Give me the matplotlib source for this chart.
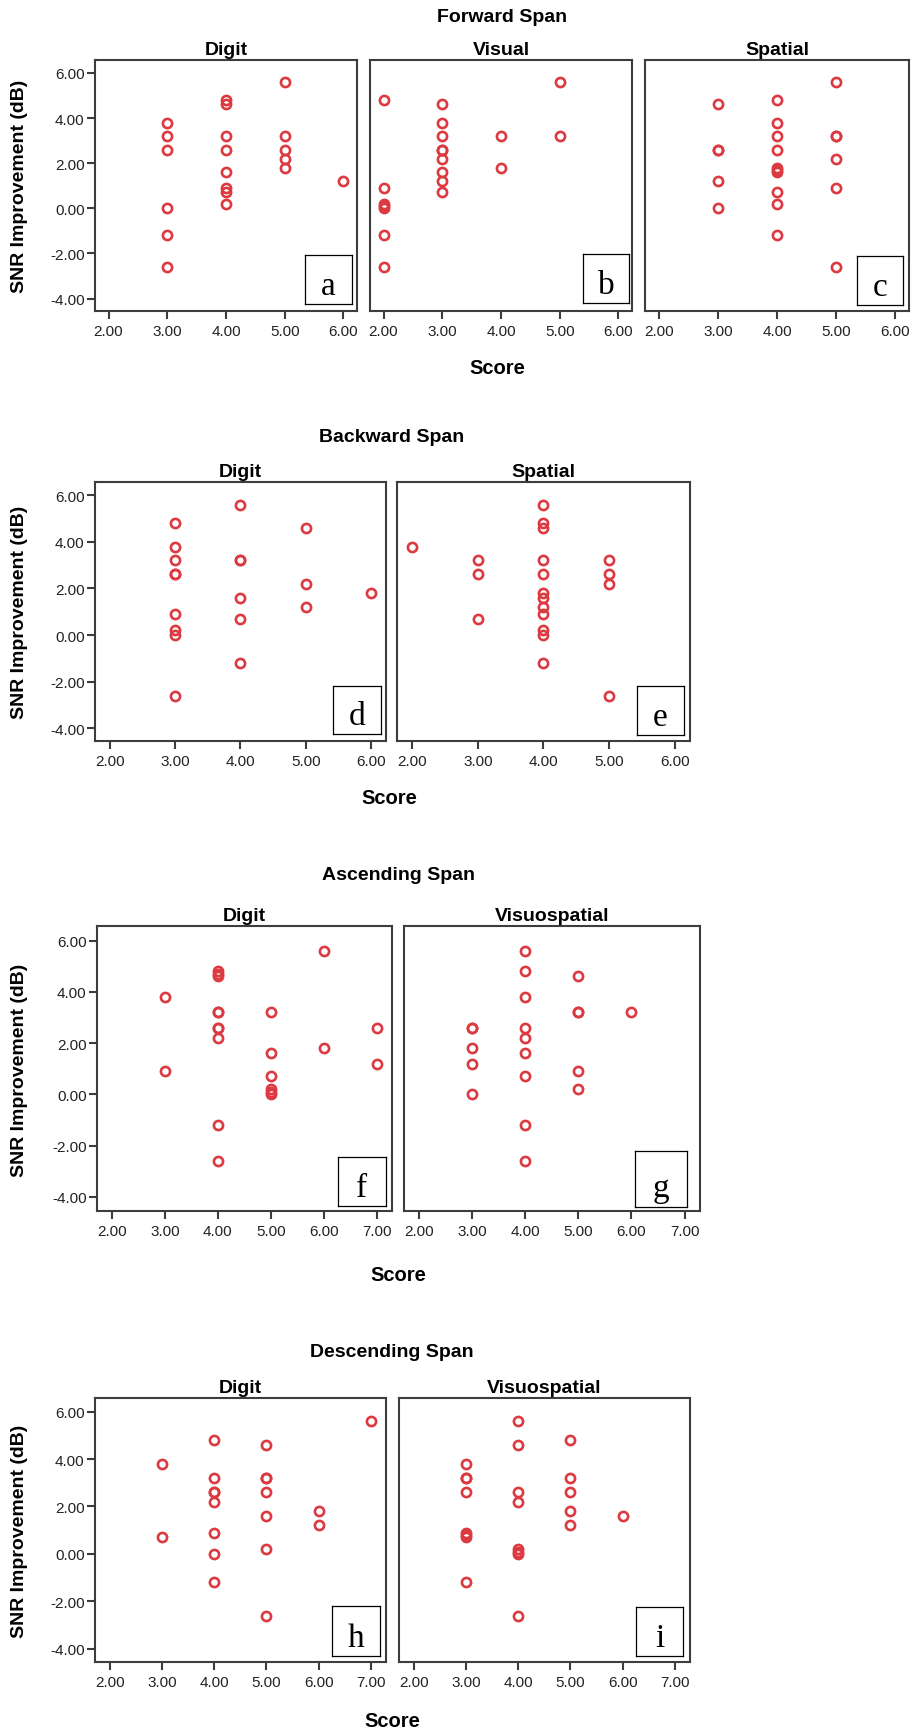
import matplotlib.pyplot as plt

plt.rcParams['font.family'] = ['Liberation Sans', 'DejaVu Sans']

# data: score (x) and SNR improvement in dB (y) for each panel
fwd_digit_score = [3]*6 + [4]*8 + [5]*5 + [6]
fwd_digit_snr = [3.8, 3.2, 2.6, 0.0, -1.2, -2.6,
                 4.8, 4.6, 3.2, 2.6, 1.6, 0.9, 0.7, 0.2,
                 5.6, 3.2, 2.6, 2.2, 1.8,
                 1.2]

fwd_visual_score = [2]*7 + [3]*9 + [4]*2 + [5]*2
fwd_visual_snr = [4.8, 0.9, 0.2, 0.1, 0.0, -1.2, -2.6,
                  4.6, 3.8, 3.2, 2.6, 2.6, 2.2, 1.6, 1.2, 0.7,
                  3.2, 1.8,
                  5.6, 3.2]

fwd_spatial_score = [3]*5 + [4]*10 + [5]*6
fwd_spatial_snr = [4.6, 2.6, 2.6, 1.2, 0.0,
                   4.8, 3.8, 3.2, 2.6, 1.8, 1.7, 1.6, 0.7, 0.2, -1.2,
                   5.6, 3.2, 3.2, 2.2, 0.9, -2.6]

bwd_digit_score = [3]*9 + [4]*6 + [5]*3 + [6]
bwd_digit_snr = [4.8, 3.8, 3.2, 2.6, 2.6, 0.9, 0.2, 0.0, -2.6,
                 5.6, 3.2, 3.2, 1.6, 0.7, -1.2,
                 4.6, 2.2, 1.2,
                 1.8]

bwd_spatial_score = [2] + [3]*3 + [4]*12 + [5]*4
bwd_spatial_snr = [3.8,
                   3.2, 2.6, 0.7,
                   5.6, 4.8, 4.6, 3.2, 2.6, 1.8, 1.6, 1.2, 0.9, 0.2, 0.0, -1.2,
                   3.2, 2.6, 2.2, -2.6]

asc_digit_score = [3]*2 + [4]*10 + [5]*6 + [6]*2 + [7]*2
asc_digit_snr = [3.8, 0.9,
                 4.8, 4.7, 4.6, 3.2, 3.2, 2.6, 2.6, 2.2, -1.2, -2.6,
                 3.2, 1.6, 0.7, 0.2, 0.1, 0.0,
                 5.6, 1.8,
                 2.6, 1.2]

asc_visuo_score = [3]*5 + [4]*9 + [5]*5 + [6]
asc_visuo_snr = [2.6, 2.6, 1.8, 1.2, 0.0,
                 5.6, 4.8, 3.8, 2.6, 2.2, 1.6, 0.7, -1.2, -2.6,
                 4.6, 3.2, 3.2, 0.9, 0.2,
                 3.2]

desc_digit_score = [3]*2 + [4]*8 + [5]*7 + [6]*2 + [7]
desc_digit_snr = [3.8, 0.7,
                  4.8, 3.2, 2.6, 2.6, 2.2, 0.9, 0.0, -1.2,
                  4.6, 3.2, 3.2, 2.6, 1.6, 0.2, -2.6,
                  1.8, 1.2,
                  5.6]

desc_visuo_score = [3]*8 + [4]*8 + [5]*5 + [6]
desc_visuo_snr = [3.8, 3.2, 3.2, 2.6, 0.9, 0.8, 0.7, -1.2,
                  5.6, 4.6, 2.6, 2.2, 0.2, 0.1, 0.0, -2.6,
                  4.8, 3.2, 2.6, 1.8, 1.2,
                  1.6]

section_titles = ["Forward Span", "Backward Span", "Ascending Span", "Descending Span"]
y_ticks = [-4, -2, 0, 2, 4, 6]

W, H = 912, 1733
fig = plt.figure(figsize=(W / 100, H / 100), dpi=100)


def px_axes(x0, y0, x1, y1):
    # pixel box (top-left origin) -> figure axes
    return fig.add_axes([x0 / W, 1 - y1 / H, (x1 - x0) / W, (y1 - y0) / H])


def fx(x):
    return x / W


def fy(y):
    return 1 - y / H


RED = '#dc3a40'
EDGE = '#3d3d3d'


def panel(box, xs, ys, title, xticks, xlim, first, letter, lbox):
    ax = px_axes(*box)
    ax.plot(xs, ys, linestyle='none', marker='o', markersize=6.6,
            markerfacecolor='none', markeredgecolor=RED, markeredgewidth=1.9)
    ax.set_xlim(*xlim)
    ax.set_ylim(-4.55, 6.57)
    ax.set_xticks(xticks)
    ax.set_xticklabels([f"{t:.2f}" for t in xticks])
    for s in ax.spines.values():
        s.set_color(EDGE)
        s.set_linewidth(1.5)
    ax.tick_params(axis='both', direction='out', length=5.5, width=1.5,
                   color=EDGE, labelsize=11, labelcolor='#222222', pad=4)
    ax.tick_params(axis='x', top=False)
    ax.tick_params(axis='y', right=False, pad=2)
    if first:
        ax.set_yticks(y_ticks)
        ax.set_yticklabels([f"{t:.2f}" for t in y_ticks])
    else:
        ax.set_yticks([])
    ax.set_title(title, fontsize=14, fontweight='bold', pad=4)

    # letter box in the lower right corner
    lb = px_axes(*lbox)
    lb.set_xticks([])
    lb.set_yticks([])
    for s in lb.spines.values():
        s.set_color('black')
        s.set_linewidth(0.9)
    lb.text(0.5, 0.2, letter, ha='center', va='baseline', fontsize=24,
            family=['Liberation Serif', 'DejaVu Serif'], transform=lb.transAxes)
    return ax


xt6 = [2, 3, 4, 5, 6]
xt7 = [2, 3, 4, 5, 6, 7]
xl6 = (1.77, 6.23)
xl7 = (1.72, 7.29)

# Forward span
panel((95, 61, 357, 312), fwd_digit_score, fwd_digit_snr, "Digit", xt6, xl6, True, "a", (305, 256, 352, 305))
panel((370, 61, 632, 312), fwd_visual_score, fwd_visual_snr, "Visual", xt6, xl6, False, "b", (583, 255, 629, 304))
panel((645, 61, 909, 312), fwd_spatial_score, fwd_spatial_snr, "Spatial", xt6, xl6, False, "c", (857, 257, 903, 306))

# Backward span
panel((95, 483, 386, 742), bwd_digit_score, bwd_digit_snr, "Digit", xt6, xl6, True, "d", (333, 687, 381, 735))
panel((397, 483, 690, 742), bwd_spatial_score, bwd_spatial_snr, "Spatial", xt6, xl6, False, "e", (637, 687, 684, 736))

# Ascending span
panel((97, 927, 392, 1212), asc_digit_score, asc_digit_snr, "Digit", xt7, xl7, True, "f", (338, 1158, 386, 1207))
panel((404, 927, 700, 1212), asc_visuo_score, asc_visuo_snr, "Visuospatial", xt7, xl7, False, "g", (635, 1152, 687, 1208))

# Descending span
panel((95, 1399, 386, 1663), desc_digit_score, desc_digit_snr, "Digit", xt7, xl7, True, "h", (332, 1607, 380, 1657))
panel((399, 1399, 690, 1663), desc_visuo_score, desc_visuo_snr, "Visuospatial", xt7, xl7, False, "i", (636, 1608, 683, 1657))

# section titles, y labels and x labels
title_pos = [(502, 17), (392, 438), (398, 876), (392, 1353)]
ylab_pos = [(20, 186), (20, 612), (20, 1070), (20, 1531)]
xlab_pos = [(497, 368), (389, 798), (398, 1276), (392, 1722)]
for t, (tx, ty), (yx, yy), (sx, sy) in zip(section_titles, title_pos, ylab_pos, xlab_pos):
    fig.text(fx(tx), fy(ty), t, ha='center', va='center', fontsize=14, fontweight='bold')
    fig.text(fx(yx), fy(yy), "SNR Improvement (dB)", ha='center', va='center',
             rotation=90, fontsize=14, fontweight='bold')
    fig.text(fx(sx), fy(sy), "Score", ha='center', va='center', fontsize=14.5, fontweight='bold')

fig.savefig("out.png", dpi=100)
